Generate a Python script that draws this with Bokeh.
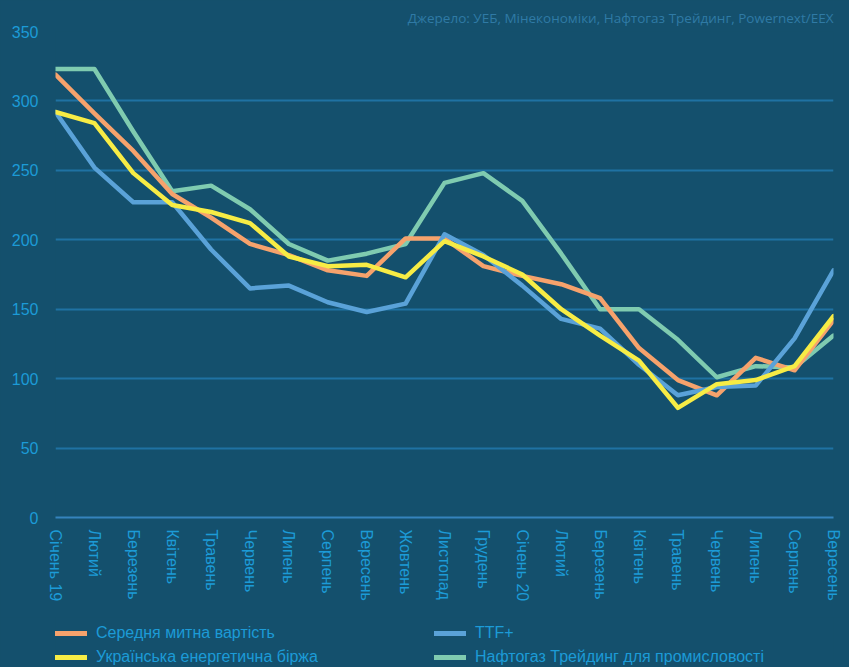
from bokeh.plotting import figure
from bokeh.models import Range1d, FixedTicker, Legend, LegendItem, Title
from bokeh.layouts import column
from bokeh.embed import file_html
from bokeh.resources import INLINE

months = ["Січень 19", "Лютий", "Березень", "Квітень", "Травень", "Червень", "Липень",
          "Серпень", "Вересень", "Жовтень", "Листопад", "Грудень", "Січень 20", "Лютий",
          "Березень", "Квітень", "Травень", "Червень", "Липень", "Серпень", "Вересень"]
customs = [319, 291, 264, 233, 216, 197, 189, 178, 174, 201, 201, 181, 174, 168, 158, 122, 99, 88, 115, 106, 142]
ttf = [292, 252, 227, 227, 193, 165, 167, 155, 148, 154, 204, 189, 167, 143, 136, 110, 88, 94, 95, 129, 178]
uex = [292, 284, 248, 225, 220, 212, 188, 181, 182, 173, 199, 188, 175, 150, 131, 113, 79, 96, 99, 109, 145]
naftogaz = [323, 323, 278, 235, 239, 222, 197, 185, 190, 197, 241, 248, 228, 190, 150, 150, 128, 101, 109, 108, 131]
yticks = [0, 50, 100, 150, 200, 250, 300, 350]
series_names = ["Середня митна вартість", "TTF+", "Українська енергетична біржа",
                "Нафтогаз Трейдинг для промисловості"]
source = "Джерело: УЕБ, Мінекономіки, Нафтогаз Трейдинг, Powernext/EEX"

BG = "#14506d"
TXT = "#1c9bd7"
GRID = "#1f72a3"
C_OR, C_BL, C_YE, C_GR = "#f6a26c", "#5aa2d8", "#f7ec45", "#7fcbb0"

x = list(range(len(months)))

p = figure(frame_width=778, frame_height=486, output_backend="svg", toolbar_location=None,
           x_range=Range1d(0, len(months) - 1), y_range=Range1d(0, 350),
           min_border_left=55, min_border_right=16, min_border_top=31, min_border_bottom=100)
p.background_fill_color = BG
p.border_fill_color = BG
p.outline_line_color = None

t = Title(text=source, align="right", text_font_size="13.5px", text_font="Open Sans",
          text_color="#2f7aa5", text_font_style="normal", standoff=10)
p.add_layout(t, "above")

p.xgrid.grid_line_color = None
p.ygrid.grid_line_color = GRID
p.ygrid.grid_line_width = 2
p.yaxis.ticker = FixedTicker(ticks=yticks)
p.xaxis.ticker = FixedTicker(ticks=x)
p.xaxis.major_label_overrides = {i: m for i, m in enumerate(months)}
p.xaxis.major_label_orientation = "vertical"

for ax in (p.xaxis, p.yaxis):
    ax.major_tick_line_color = None
    ax.minor_tick_line_color = None
    ax.major_label_text_color = TXT
    ax.major_label_text_font = "Liberation Sans"
    ax.major_label_text_font_size = "16px"
p.yaxis.axis_line_color = None
p.yaxis.major_label_standoff = 11
p.xaxis.axis_line_color = "#3583bd"
p.xaxis.axis_line_width = 2
p.xaxis.major_label_standoff = 6

kw = dict(line_width=4.5, line_cap="round", line_join="round")
p.line(x, naftogaz, line_color=C_GR, **kw)
p.line(x, customs, line_color=C_OR, **kw)
p.line(x, ttf, line_color=C_BL, **kw)
p.line(x, uex, line_color=C_YE, **kw)

# legend strip below the chart: hidden copies of the series supply the legend keys
lg = figure(width=849, height=50, output_backend="svg", toolbar_location=None,
            x_axis_type=None, y_axis_type=None, min_border=0,
            x_range=Range1d(0, len(months) - 1), y_range=Range1d(0, 350))
lg.background_fill_color = BG
lg.border_fill_color = BG
lg.outline_line_color = None
lg.xgrid.visible = False
lg.ygrid.visible = False
keys = []
for series, c in zip((customs, ttf, uex, naftogaz), (C_OR, C_BL, C_YE, C_GR)):
    r = lg.line(x, series, line_color=c, line_width=5, line_cap="round")
    r.visible = False
    keys.append(r)

legend = Legend(items=[LegendItem(label=n, renderers=[r]) for n, r in zip(series_names, keys)],
                location=(0, 0), ncols=2, orientation="horizontal",
                background_fill_alpha=0, border_line_color=None, margin=0, padding=0,
                glyph_width=32, glyph_height=20, label_height=20, label_width=334, spacing=4,
                label_standoff=9, label_text_font="Liberation Sans", label_text_font_size="16px",
                label_text_color=TXT, inactive_fill_alpha=0, click_policy="none")
lg.add_layout(legend, "center")

layout = column(p, lg, spacing=0)
html = file_html(layout, INLINE)
html = html.replace("</head>", "<style>html,body{background:%s;overflow:hidden;}</style></head>" % BG, 1)
open("out.html", "w").write(html)
